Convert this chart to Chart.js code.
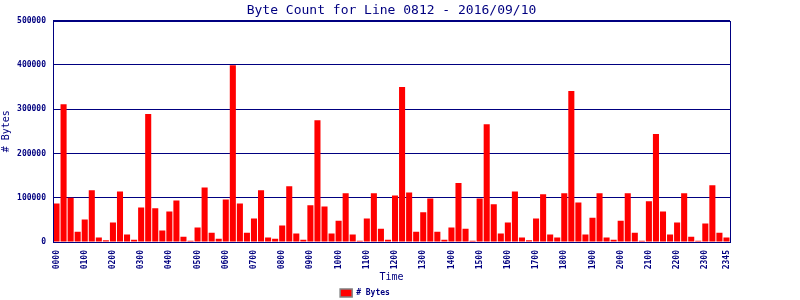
<!DOCTYPE html>
<html>
<head>
<meta charset="utf-8">
<script src="https://cdn.jsdelivr.net/npm/chart.js@4"></script>
<style>
  html, body { margin: 0; padding: 0; background: #fff; }
  #wrap { width: 800px; height: 300px; }
</style>
</head>
<body>
<div id="wrap"><canvas id="byteChart"></canvas></div>
<script>
// =========================
// Data (15 minute slots, 0000 - 2345)
// =========================
const hours = ['00','01','02','03','04','05','06','07','08','09','10','11',
               '12','13','14','15','16','17','18','19','20','21','22','23'];
const quarters = ['00','15','30','45'];
const timeLabels = [];
hours.forEach(h => quarters.forEach(q => timeLabels.push(h + q)));

const byteCounts = [
    87000, 311000, 100000, 23000, 51000, 117000, 10000, 4000,     // 00-01
    44000, 114000, 17000, 5000, 78000, 289000, 76000, 26000,      // 02-03
    69000, 94000, 12000, 3000, 33000, 123000, 21000, 7500,        // 04-05
    96000, 399000, 87000, 21000, 53000, 117000, 10000, 7500,      // 06-07
    37000, 126000, 19000, 5000, 83000, 275000, 80000, 19000,      // 08-09
    48000, 110000, 17000, 3000, 53000, 110000, 30000, 5000,       // 10-11
    105000, 350000, 112000, 23000, 67000, 98000, 23000, 5000,     // 12-13
    33000, 133000, 30000, 3000, 98000, 266000, 85000, 19000,      // 14-15
    44000, 114000, 10000, 4000, 53000, 108000, 17000, 10000,      // 16-17
    110000, 341000, 89000, 17000, 55000, 110000, 10000, 5000,     // 18-19
    48000, 110000, 21000, 3000, 92000, 244000, 69000, 17000,      // 20-21
    44000, 110000, 12000, 3000, 42000, 128000, 21000, 10000       // 22-23
];

const navy = '#000080';
const mono = '"DejaVu Sans Mono", monospace';

// frame round the plot area
const plotFrame = {
    id: 'plotFrame',
    afterDraw(chart) {
        const a = chart.chartArea;
        const ctx = chart.ctx;
        ctx.save();
        ctx.strokeStyle = navy;
        ctx.lineWidth = 1;
        ctx.strokeRect(Math.round(a.left) + 0.5, Math.round(a.top) + 0.5,
                       Math.round(a.right - a.left), Math.round(a.bottom - a.top));
        ctx.restore();
    }
};

new Chart(document.getElementById('byteChart').getContext('2d'), {
    type: 'bar',
    data: {
        labels: timeLabels,
        datasets: [{
            label: '# Bytes',
            data: byteCounts,
            backgroundColor: '#ff0000',
            borderWidth: 0,
            barPercentage: 0.86,
            categoryPercentage: 1.0
        }]
    },
    options: {
        responsive: true,
        maintainAspectRatio: false,
        animation: false,
        layout: { padding: { left: 0, right: 70, top: 0, bottom: 0 } },
        plugins: {
            title: {
                display: true,
                text: 'Byte Count for Line 0812 - 2016/09/10',
                color: navy,
                fullSize: false,
                font: { family: mono, size: 13, weight: 'normal' },
                padding: { top: 3, bottom: 2 }
            },
            legend: {
                position: 'bottom',
                maxHeight: 16,
                labels: {
                    color: navy,
                    font: { family: mono, size: 8, weight: 'bold' },
                    boxWidth: 12,
                    boxHeight: 8,
                    padding: 5,
                    generateLabels: chart => [{
                        text: '# Bytes',
                        fillStyle: '#ff0000',
                        strokeStyle: '#808080',
                        lineWidth: 1.5,
                        fontColor: navy,
                        datasetIndex: 0
                    }]
                }
            },
            tooltip: { enabled: false }
        },
        scales: {
            x: {
                offset: true,
                afterFit: scale => { scale.height = 42; },
                grid: { display: false, drawTicks: false },
                border: { color: navy, width: 1 },
                ticks: {
                    autoSkip: false,
                    minRotation: 90,
                    maxRotation: 90,
                    padding: 8,
                    color: navy,
                    font: { family: mono, size: 8, weight: 'bold' },
                    callback: function (value, index) {
                        if (index % 4 === 0 || index === timeLabels.length - 1) return timeLabels[index];
                        return '';
                    }
                },
                title: {
                    display: true,
                    text: 'Time',
                    color: navy,
                    font: { family: mono, size: 10 },
                    padding: { top: 3, bottom: 1 }
                }
            },
            y: {
                min: 0,
                max: 500000,
                afterFit: scale => { scale.width = 53; },
                grid: { color: navy, lineWidth: 1, drawTicks: false },
                border: { color: navy, width: 1 },
                ticks: {
                    stepSize: 100000,
                    padding: 7,
                    color: navy,
                    font: { family: mono, size: 8, weight: 'bold' },
                    callback: value => String(value)
                },
                title: {
                    display: true,
                    text: '# Bytes',
                    color: navy,
                    font: { family: mono, size: 10 },
                    padding: 0
                }
            }
        }
    },
    plugins: [plotFrame]
});
</script>
</body>
</html>
